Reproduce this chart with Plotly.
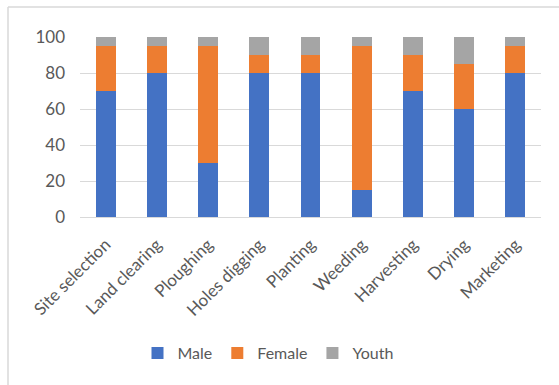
import plotly.graph_objects as go

categories = ["Site selection", "Land clearing", "Ploughing", "Holes digging", "Planting",
              "Weeding", "Harvesting", "Drying", "Marketing"]
male = [70, 80, 30, 80, 80, 15, 70, 60, 80]
female = [25, 15, 65, 10, 10, 80, 20, 25, 15]
youth = [5, 5, 5, 10, 10, 5, 10, 15, 5]
y_ticks = [0, 20, 40, 60, 80, 100]

FONT = "Lato"
TXT = "#595959"
GRID = "#d9d9d9"

fig = go.Figure()
for name, vals, col in [("Male", male, "#4472C4"), ("Female", female, "#ED7D31"), ("Youth", youth, "#A5A5A5")]:
    fig.add_trace(go.Bar(x=categories, y=vals, name=name, marker=dict(color=col, line=dict(width=0))))

L, R, T, B = 80, 18, 37, 168
W, H = 559, 385
pw = W - L - R
ph = H - T - B

def px_x(px):
    return (px - L) / pw

def px_y(py):
    return (H - B - py) / ph

fig.update_layout(
    width=W, height=H,
    margin=dict(l=L, r=R, t=T, b=B),
    barmode="stack",
    bargap=0.61,
    plot_bgcolor="white",
    paper_bgcolor="white",
    font=dict(family=FONT, color=TXT, size=16),
    xaxis=dict(tickangle=-45, showgrid=False, showline=True, linecolor=GRID, linewidth=1,
               ticks="", ticklabelstandoff=10, tickfont=dict(size=17, color=TXT)),
    yaxis=dict(range=[0, 100], tickvals=y_ticks, showgrid=True, gridcolor=GRID, gridwidth=1,
               zeroline=False, showline=False, ticks="", ticklabelstandoff=14,
               tickfont=dict(size=17, color=TXT)),
    legend=dict(orientation="h", x=px_x(268), xanchor="center", y=px_y(353), yanchor="middle",
                font=dict(size=16, color=TXT), itemwidth=30, traceorder="normal"),
    showlegend=True,
    shapes=[
        dict(type="line", xref="paper", yref="paper", x0=px_x(8), x1=px_x(560), y0=px_y(7), y1=px_y(7),
             line=dict(color=GRID, width=1.5)),
        dict(type="line", xref="paper", yref="paper", x0=px_x(8), x1=px_x(8), y0=px_y(7), y1=px_y(386),
             line=dict(color=GRID, width=1.5)),
    ],
)

fig.write_html("out.html")
